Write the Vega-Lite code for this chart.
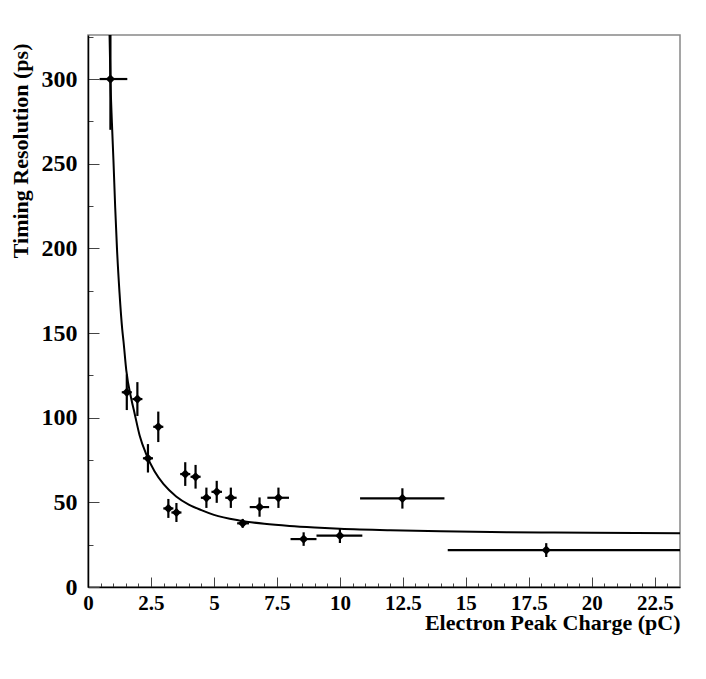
{
  "$schema": "https://vega.github.io/schema/vega-lite/v6.json",
  "width": 592,
  "height": 552,
  "autosize": {"type": "none"},
  "padding": {"left": 88, "top": 35, "right": 26, "bottom": 92},
  "background": "white",
  "config": {
    "view": {"stroke": "#888888", "strokeWidth": 1.5},
    "font": "Liberation Serif"
  },
  "datasets": {
    "pts": [
      {"q": 0.89, "t": 300, "qlo": 0.46, "qhi": 1.56, "tlo": 270, "thi": 340},
      {"q": 1.54, "t": 115, "qlo": 1.34, "qhi": 1.74, "tlo": 104.5, "thi": 125.5},
      {"q": 1.96, "t": 111, "qlo": 1.76, "qhi": 2.16, "tlo": 101, "thi": 121},
      {"q": 2.38, "t": 76, "qlo": 2.18, "qhi": 2.58, "tlo": 67.6, "thi": 84.4},
      {"q": 2.79, "t": 94.6, "qlo": 2.59, "qhi": 2.99, "tlo": 85.6, "thi": 103.6},
      {"q": 3.19, "t": 46.4, "qlo": 2.99, "qhi": 3.39, "tlo": 40.8, "thi": 52},
      {"q": 3.51, "t": 44, "qlo": 3.31, "qhi": 3.71, "tlo": 38.4, "thi": 49.6},
      {"q": 3.86, "t": 66.7, "qlo": 3.66, "qhi": 4.06, "tlo": 59.7, "thi": 73.7},
      {"q": 4.27, "t": 65.1, "qlo": 4.07, "qhi": 4.47, "tlo": 58.1, "thi": 72.1},
      {"q": 4.7, "t": 52.7, "qlo": 4.48, "qhi": 4.88, "tlo": 46.7, "thi": 58.7},
      {"q": 5.11, "t": 56.2, "qlo": 4.9, "qhi": 5.32, "tlo": 49.7, "thi": 62.7},
      {"q": 5.67, "t": 52.7, "qlo": 5.45, "qhi": 5.9, "tlo": 46.7, "thi": 58.7},
      {"q": 6.14, "t": 37.6, "qlo": 5.92, "qhi": 6.39, "tlo": 35, "thi": 40.2},
      {"q": 6.81, "t": 47.2, "qlo": 6.42, "qhi": 7.19, "tlo": 41.5, "thi": 52.9},
      {"q": 7.56, "t": 52.7, "qlo": 7.12, "qhi": 7.98, "tlo": 46.7, "thi": 58.7},
      {"q": 8.56, "t": 28.3, "qlo": 8.04, "qhi": 9.07, "tlo": 24.3, "thi": 32.3},
      {"q": 10.0, "t": 30.3, "qlo": 9.07, "qhi": 10.89, "tlo": 26, "thi": 34.5},
      {"q": 12.48, "t": 52.3, "qlo": 10.8, "qhi": 14.15, "tlo": 46.3, "thi": 58.3},
      {"q": 18.19, "t": 21.8, "qlo": 14.28, "qhi": 23.6, "tlo": 17.7, "thi": 25.9}
    ],
    "fit": [
      {"q": 0.85, "t": 330},
      {"q": 0.89, "t": 300},
      {"q": 0.95, "t": 274},
      {"q": 1.01, "t": 252},
      {"q": 1.08, "t": 224},
      {"q": 1.15, "t": 200},
      {"q": 1.25, "t": 174},
      {"q": 1.36, "t": 152},
      {"q": 1.41, "t": 145},
      {"q": 1.52, "t": 128},
      {"q": 1.72, "t": 111},
      {"q": 1.85, "t": 102.5},
      {"q": 2.05, "t": 89.5},
      {"q": 2.31, "t": 78.5},
      {"q": 2.64, "t": 68.3},
      {"q": 3.0, "t": 60.7},
      {"q": 3.5, "t": 53.5},
      {"q": 4.0, "t": 48.7},
      {"q": 4.5, "t": 45.4},
      {"q": 5.0, "t": 42.6},
      {"q": 6.0, "t": 39.3},
      {"q": 7.0, "t": 37.3},
      {"q": 8.0, "t": 36.0},
      {"q": 9.0, "t": 35.1},
      {"q": 10.0, "t": 34.4},
      {"q": 12.0, "t": 33.5},
      {"q": 14.0, "t": 32.9},
      {"q": 16.0, "t": 32.5},
      {"q": 18.0, "t": 32.2},
      {"q": 20.0, "t": 32.0},
      {"q": 23.5, "t": 31.7}
    ]
  },
  "encoding": {
    "x": {
      "field": "q", "type": "quantitative",
      "scale": {"domain": [0, 23.5], "nice": false, "zero": false},
      "axis": {
        "title": "Electron Peak Charge (pC)",
        "values": [0,0.5,1,1.5,2,2.5,3,3.5,4,4.5,5,5.5,6,6.5,7,7.5,8,8.5,9,9.5,10,10.5,11,11.5,12,12.5,13,13.5,14,14.5,15,15.5,16,16.5,17,17.5,18,18.5,19,19.5,20,20.5,21,21.5,22,22.5,23],
        "format": "~r",
        "labelExpr": "datum.value % 2.5 == 0 ? datum.label : ''",
        "tickSize": {"condition": {"test": "datum.value % 2.5 != 0", "value": -4}, "value": -10},
        "tickColor": "#444444",
        "tickWidth": 1,
        "domainColor": "black",
        "domainWidth": 1.5,
        "grid": false,
        "labelFont": "Liberation Serif",
        "labelFontWeight": "bold",
        "labelFontSize": 21,
        "labelColor": "black",
        "labelPadding": 15,
        "labelFlush": false,
        "labelOverlap": false,
        "titleFont": "Liberation Serif",
        "titleFontWeight": "bold",
        "titleFontSize": 22,
        "titleColor": "black",
        "titleAnchor": "end",
        "titleAlign": "right",
        "titleBaseline": "alphabetic",
        "titleX": 592,
        "titleY": 42
      }
    },
    "y": {
      "field": "t", "type": "quantitative",
      "scale": {"domain": [0, 326], "nice": false, "zero": false},
      "axis": {
        "title": "Timing Resolution (ps)",
        "values": [0,25,50,75,100,125,150,175,200,225,250,275,300,325],
        "format": "d",
        "labelExpr": "datum.value % 50 == 0 ? datum.label : ''",
        "tickSize": {"condition": {"test": "datum.value % 50 != 0", "value": -5}, "value": -11},
        "tickColor": "#444444",
        "tickWidth": 1,
        "domainColor": "black",
        "domainWidth": 1.5,
        "grid": false,
        "labelFont": "Liberation Serif",
        "labelFontWeight": "bold",
        "labelFontSize": 24,
        "labelColor": "black",
        "labelPadding": 22,
        "labelFlush": false,
        "labelOverlap": false,
        "titleFont": "Liberation Serif",
        "titleFontWeight": "bold",
        "titleFontSize": 22,
        "titleColor": "black",
        "titleAngle": -90,
        "titleAlign": "right",
        "titleBaseline": "middle",
        "titleX": -68,
        "titleY": 8
      }
    }
  },
  "layer": [
    {
      "data": {"name": "fit"},
      "mark": {"type": "line", "color": "black", "strokeWidth": 2, "clip": true, "interpolate": "monotone"},
      "encoding": {}
    },
    {
      "data": {"name": "pts"},
      "mark": {"type": "rule", "color": "black", "strokeWidth": 2.2, "clip": true},
      "encoding": {"x": {"field": "qlo", "type": "quantitative"}, "x2": {"field": "qhi"}}
    },
    {
      "data": {"name": "pts"},
      "mark": {"type": "rule", "color": "black", "strokeWidth": 2.2, "clip": true},
      "encoding": {"y": {"field": "tlo", "type": "quantitative"}, "y2": {"field": "thi"}}
    },
    {
      "data": {"name": "pts"},
      "mark": {"type": "point", "shape": "diamond", "filled": true, "color": "black", "size": 85, "opacity": 1, "clip": true},
      "encoding": {}
    }
  ]
}
